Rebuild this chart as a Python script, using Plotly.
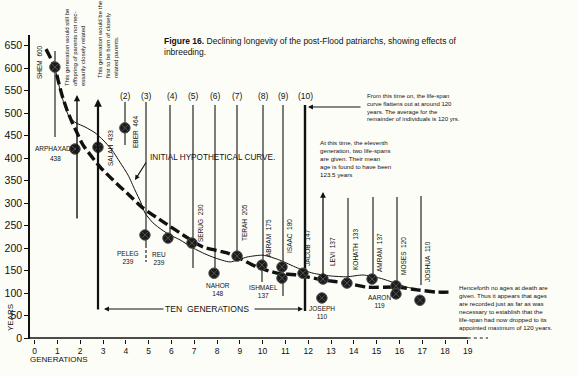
import plotly.graph_objects as go

# ---------------- data ----------------
names = ["SHEM", "ARPHAXAD", "SALAH", "EBER", "PELEG", "REU", "SERUG", "NAHOR",
         "TERAH", "ABRAM", "ISAAC", "ISHMAEL", "JACOB", "LEVI", "JOSEPH",
         "KOHATH", "AMRAM", "MOSES", "AARON", "JOSHUA"]
stated_age = [600, 438, 433, 464, 239, 239, 230, 148, 205, 175, 180, 137, 147,
              137, 110, 133, 137, 120, 119, 110]
gen_pos = [0.89, 1.77, 2.78, 3.96, 4.84, 5.85, 6.90, 7.87, 8.88, 9.97, 10.85,
           10.85, 11.77, 12.65, 12.60, 13.70, 14.80, 15.85, 15.85, 16.90]
plotted_age = [602, 420, 424, 467, 229, 222, 211, 144, 182, 162, 158, 133, 144,
               131, 89, 122, 131, 116, 98, 84]

# initial hypothetical curve (thin solid)
hypo_gen = [0.89, 1.03, 1.20, 1.38, 1.55, 1.82, 2.21, 2.65, 3.00, 3.39, 3.74,
            4.10, 4.40, 4.67, 4.84, 5.19, 5.59, 5.94, 6.38, 6.95, 7.47, 7.91,
            8.57, 9.32, 10.02, 10.76, 11.51, 12.21, 12.96, 13.70, 14.40, 15.15,
            15.81, 16.33, 16.90]
hypo_age = [602, 569, 536, 507, 489, 478, 469, 456, 440, 418, 391, 362, 329,
            300, 278, 256, 240, 229, 218, 200, 187, 178, 169, 180, 184, 173,
            156, 144, 138, 136, 140, 133, 122, 113, 107]

# observed trend (thick dashed)
trend_gen = [0.50, 0.89, 1.03, 1.20, 1.42, 1.64, 1.86, 2.12, 2.52, 2.87, 3.44,
             4.05, 4.75, 5.64, 6.51, 7.39, 8.44, 8.88, 9.75, 10.63, 11.51,
             12.65, 13.70, 14.58, 15.90, 16.77, 17.65, 18.31]
trend_age = [642, 602, 573, 540, 507, 480, 456, 429, 402, 380, 351, 322, 289,
             258, 229, 202, 189, 180, 158, 144, 140, 129, 122, 113, 113, 107,
             102, 102]

x_ticks = list(range(0, 20))
y_ticks = list(range(0, 651, 50))
gen_numbers = ["(2)", "(3)", "(4)", "(5)", "(6)", "(7)", "(8)", "(9)", "(10)"]

# ---------------- layout helpers ----------------
W, H = 578, 376
L, R, T, B = 30, 90, 35, 37           # plot area: x 30..488, y 35..339
PW, PH = W - L - R, H - T - B
X0, DX = 34.6, 22.8                   # pixel of generation 0, pixels per generation
Y0, DY = 338.0, 0.45                  # pixel of 0 years, pixels per year


def gx(px):
    return (px - X0) / DX


def gy(py):
    return (Y0 - py) / DY


def px2paper(px, py):
    return (px - L) / PW, (H - B - py) / PH


FONT = "Liberation Sans, Arial, Helvetica, sans-serif"
INK = "#111111"

fig = go.Figure()

fig.add_trace(go.Scatter(x=hypo_gen, y=hypo_age, mode="lines",
                         line=dict(color=INK, width=1, shape="spline", smoothing=0.6),
                         hoverinfo="skip", showlegend=False))
fig.add_trace(go.Scatter(x=trend_gen, y=trend_age, mode="lines",
                         line=dict(color=INK, width=3.4, dash="10px,4px",
                                   shape="spline", smoothing=0.6),
                         hoverinfo="skip", showlegend=False))
fig.add_trace(go.Scatter(x=gen_pos, y=plotted_age, mode="markers",
                         marker=dict(symbol="circle-x", size=10.5, color="#1c1c1c",
                                     line=dict(color="#505050", width=1)),
                         text=names, showlegend=False))

shapes = []


def vline(px, top, bot, w=1.1, dash="solid"):
    shapes.append(dict(type="line", xref="x", yref="y", x0=gx(px), x1=gx(px),
                       y0=gy(top), y1=gy(bot), layer="below",
                       line=dict(color=INK, width=w, dash=dash)))


vline(55, 51, 137)            # Shem
vline(125, 102, 145)          # Eber (2)
vline(146, 102, 245)          # Peleg (3)
vline(146, 245, 262, dash="3px,2px")
vline(170, 105, 238)          # Reu (4)
vline(193, 105, 268)          # Serug (5)
vline(215, 105, 273)          # Nahor (6)
vline(237, 105, 256)          # Terah (7)
vline(263, 105, 265)          # Abram (8)
vline(262, 270, 282)          # Ishmael tick
vline(283, 105, 296)          # Isaac (9)
vline(305, 105, 311, w=2.4)   # Jacob (10)
vline(348, 198, 283)          # Kohath
vline(373, 197, 279)          # Amram
vline(397, 197, 286)          # Moses
vline(421, 196, 285)          # Joshua

# x axis line: solid then dotted
shapes.append(dict(type="line", xref="x", yref="y", x0=gx(30), x1=19, y0=0, y1=0,
                   line=dict(color=INK, width=1.3)))
shapes.append(dict(type="line", xref="x", yref="y", x0=19, x1=gx(488), y0=0, y1=0,
                   line=dict(color=INK, width=1, dash="dot")))

anns = []


def text(t, px, py, size=7, angle=0, xa="center", ya="middle", align="center"):
    x, y = px2paper(px, py)
    anns.append(dict(text=t, x=x, y=y, xref="paper", yref="paper",
                     showarrow=False, textangle=angle, xanchor=xa, yanchor=ya,
                     align=align, font=dict(family=FONT, size=size, color=INK)))


def arrow(tx, ty, hx, hy, w=1.2, size=0.9):
    x, y = px2paper(hx, hy)
    anns.append(dict(text="", x=x, y=y, ax=tx - hx, ay=ty - hy,
                     xref="paper", yref="paper", showarrow=True,
                     arrowhead=2, arrowsize=size, arrowwidth=w, arrowcolor=INK))


NB = "\u00a0"
lab = dict(zip(names, stated_age))

# rotated name labels
rot = {"SHEM": (40, 62), "SALAH": (110, 148), "EBER": (135, 132),
       "SERUG": (200, 223), "TERAH": (244, 223), "ABRAM": (268, 238),
       "ISAAC": (290, 236), "JACOB": (308, 248), "LEVI": (332, 252),
       "KOHATH": (355, 250), "AMRAM": (379, 253), "MOSES": (403, 256),
       "JOSHUA": (427, 262)}
for n, (px, py) in rot.items():
    text(f"{n}{NB}{NB}{lab[n]}", px, py, size=6.5, angle=-90)

# horizontal two-line labels
flat = {"PELEG": (128, 257), "REU": (159, 258), "NAHOR": (218, 289),
        "ISHMAEL": (263, 291), "JOSEPH": (322, 312), "AARON": (379, 301)}
for n, (px, py) in flat.items():
    text(f"{n}<br>{lab[n]}", px, py, size=6.5)
text("ARPHAXAD", 73, 148, size=6.5, xa="right")
text(str(lab["ARPHAXAD"]), 55, 158, size=6.5)

# generation numbers
for g, px in zip(gen_numbers, [125, 146, 172, 193, 215, 237, 263, 283, 305]):
    text(g, px, 96, size=8.5)

# arrows on vertical lines
arrow(77, 220, 77, 95, w=1.4)             # Arphaxad
arrow(98, 311, 98, 99, w=2.2, size=0.7)   # Salah
arrow(323, 279, 323, 192, w=1.3)          # Levi
# horizontal / pointer arrows
arrow(165, 309, 104, 309, w=1.1)
arrow(253, 309, 303, 309, w=1.1)
arrow(362, 107, 308, 107, w=1.1)
arrow(147, 161, 135, 180, w=1.1)

text("TEN" + NB + NB + "GENERATIONS", 207, 309, size=8.6)
text("INITIAL HYPOTHETICAL CURVE.", 148, 157, size=8.2, xa="left")

# title
text("<b>Figure 16.</b> Declining longevity of the post-Flood patriarchs, showing effects of<br>inbreeding.",
     162, 34, size=8.5, xa="left", ya="top", align="left")

# paragraphs
text("From this time on, the life-span<br>curve flattens out at around 120<br>years. The average for the<br>remainder of individuals is 120 yrs.",
     365, 91, size=6, xa="left", ya="top", align="left")
text("At this time, the eleventh<br>generation, two life-spans<br>are given. Their mean<br>age is found to have been<br>123.5 years",
     318, 137, size=6.2, xa="left", ya="top", align="left")
text("Henceforth no ages at death are<br>given. Thus it appears that ages<br>are recorded just as far as was<br>necessary to establish that the<br>life-span had now dropped to its<br>appointed maximum of 120 years.",
     457, 282, size=6.2, xa="left", ya="top", align="left")
text("This generation would still be<br>offspring of parents not nec-<br>essarily closely related",
     75, 88, size=6, angle=-90, ya="bottom", align="left")
text("This generation would be the<br>first to be born of closely<br>related parents.",
     108, 80, size=6, angle=-90, ya="bottom", align="left")

# axis titles
text("GENERATIONS", 28, 359, size=8, xa="left")
text("YEARS", 10, 318, size=8, angle=-90)

BG = "#fdfdf7"
fig.update_layout(
    template="none",
    width=W, height=H,
    margin=dict(l=L, r=R, t=T, b=B, pad=0, autoexpand=False),
    paper_bgcolor=BG, plot_bgcolor=BG,
    shapes=shapes, annotations=anns,
    showlegend=False,
    xaxis=dict(range=[gx(L), gx(W - R)], showgrid=False, zeroline=False,
               showline=False, automargin=False, tickmode="array", tickvals=x_ticks,
               ticktext=[str(v) for v in x_ticks], ticks="outside", ticklen=4,
               tickcolor=INK, tickwidth=1, tickfont=dict(family=FONT, size=8.5, color=INK)),
    yaxis=dict(range=[gy(H - B), gy(T)], showgrid=False, zeroline=False,
               showline=True, linecolor=INK, linewidth=1.5, automargin=False,
               tickmode="array", tickvals=y_ticks, ticks="outside", ticklen=4,
               tickcolor=INK, tickwidth=1, tickfont=dict(family=FONT, size=10.5, color=INK)),
)

fig.write_html("out.html", config={"displayModeBar": False},
               post_script="document.body.style.margin='0';document.body.style.background='%s';" % BG)
